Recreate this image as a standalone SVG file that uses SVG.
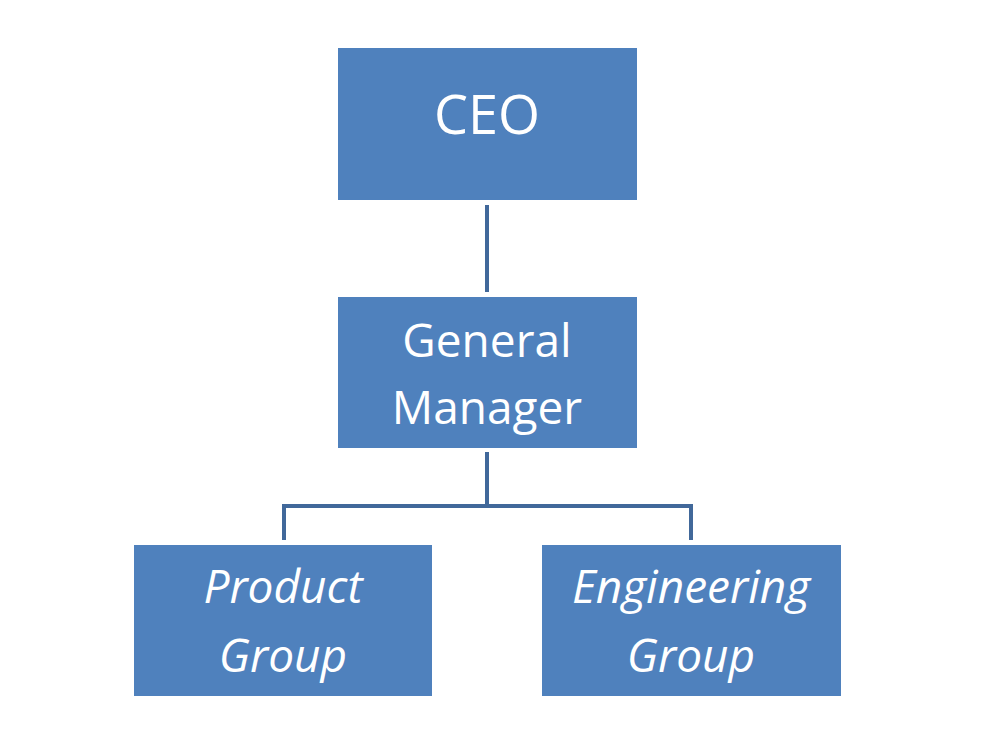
<svg xmlns="http://www.w3.org/2000/svg" width="986" height="738" viewBox="0 0 986 738">
<style>
.box{fill:#4F81BD}
.t{fill:#fff;font-family:"Open Sans","Liberation Sans",sans-serif;text-anchor:middle}
.i{font-style:italic}
.c{fill:none;stroke:#41689a;stroke-width:4}
</style>
<rect width="986" height="738" fill="#fff"/>
<g id="connectors">
<path class="c" d="M487 205V292"/>
<path class="c" d="M487 452V506M284 506H691M284 504V540M691 504V540"/>
</g>
<g id="ceo"><rect class="box" x="338" y="48" width="299" height="152"/><text class="t" x="487" y="134" font-size="54">CEO</text></g>
<g id="gm"><rect class="box" x="338" y="297" width="299" height="151"/><text class="t" x="487" y="357" font-size="46">General</text><text class="t" x="487" y="424" font-size="46">Manager</text></g>
<g id="product"><rect class="box" x="134" y="545" width="298" height="151"/><text class="t i" x="283" y="603" font-size="46">Product</text><text class="t i" x="283" y="672" font-size="46">Group</text></g>
<g id="engineering"><rect class="box" x="542" y="545" width="299" height="151"/><text class="t i" x="691" y="603" font-size="46">Engineering</text><text class="t i" x="691" y="672" font-size="46">Group</text></g>
</svg>
